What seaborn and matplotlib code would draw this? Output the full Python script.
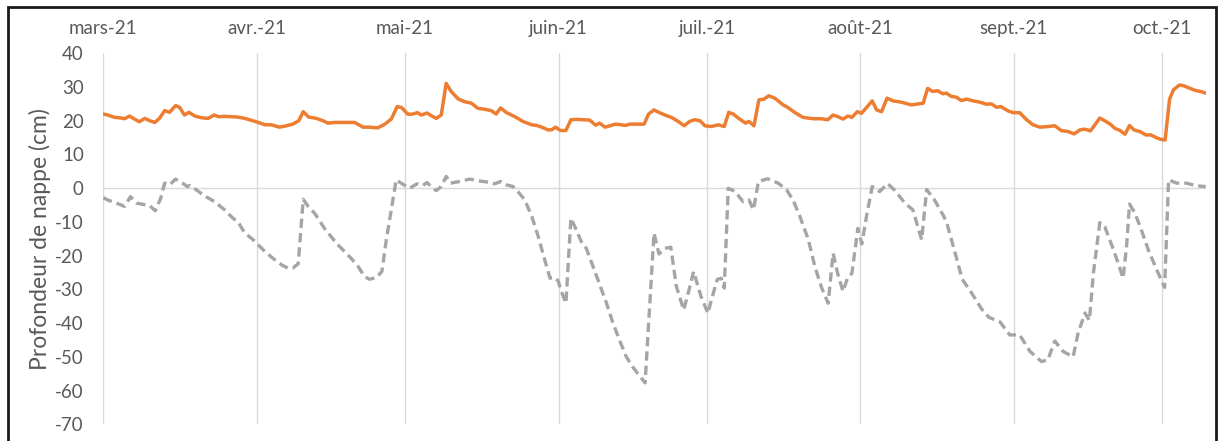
import numpy as np
import pandas as pd
import matplotlib
matplotlib.use("Agg")
import matplotlib.pyplot as plt
from matplotlib.patches import Rectangle
import seaborn as sns

# ---- data (days after 2021-03-01, depth in cm) ----
orange_days = [0, 0.9, 2.3, 3.3, 4.3, 5.3, 6.3, 7.3, 8.4, 9.4, 10.4, 11.4, 12.4, 13.4, 14.6, 15.4,
               16.4, 17.3, 18.5, 19.8, 21.2, 22.4, 23.3, 24.5, 25.9, 27.2, 28.6, 30.9, 32.7, 34.0,
               35.6, 37.0, 38.3, 39.5, 40.4, 41.5, 43.1, 44.4, 45.4, 46.8, 48.1, 49.4, 50.8, 52.5,
               53.8, 55.5, 56.9, 58.2, 59.4, 60.3, 61.5, 62.3, 63.5, 64.3, 65.4, 66.3, 67.3, 68.3,
               69.3, 70.3, 71.7, 72.9, 74.4, 75.7, 77.1, 78.4, 79.4, 80.3, 81.5, 83.2, 84.8, 86.6,
               87.6, 88.6, 89.9, 90.6, 91.4, 92.4, 93.5, 94.5, 95.6, 97.0, 98.3, 99.5, 100.3, 101.4,
               102.4, 103.5, 104.7, 105.5, 106.4, 108.0, 109.3, 110.2, 111.3, 112.1, 113.5, 114.8,
               116.2, 117.4, 118.5, 119.5, 120.6, 121.6, 122.9, 124.3, 125.5, 126.4, 127.3, 128.6,
               129.8, 130.5, 131.5, 132.5, 133.5, 134.5, 135.7, 137.4, 138.4, 139.8, 141.4, 143.5,
               145.1, 146.4, 147.5, 148.5, 149.5, 150.5, 151.3, 152.4, 153.2, 154.3, 155.4, 156.3,
               157.3, 158.4, 159.6, 161.3, 163.3, 165.7, 166.6, 167.6, 168.6, 169.7, 170.4, 171.4,
               172.4, 173.4, 174.5, 175.8, 177.2, 178.5, 179.5, 180.5, 181.4, 182.9, 183.9, 185.2,
               186.6, 187.9, 189.3, 191.0, 192.3, 193.6, 195.0, 196.2, 197.4, 198.4, 199.5, 200.4,
               201.4, 202.4, 203.5, 204.5, 205.5, 206.5, 207.4, 208.3, 209.5, 210.7, 211.7, 212.8,
               213.7, 214.6, 215.5, 216.3, 217.5, 218.3, 219.3, 220.7, 221.7, 222.8]
orange_vals = [22.0, 21.7, 21.0, 20.9, 20.6, 21.4, 20.5, 19.7, 20.7, 20.0, 19.5, 20.8, 23.0, 22.5, 24.5, 24.0,
               21.7, 22.5, 21.4, 20.9, 20.7, 21.7, 21.2, 21.3, 21.2, 21.1, 20.7, 19.7, 18.8, 18.8,
               18.1, 18.5, 19.0, 20.0, 22.7, 21.1, 20.7, 20.0, 19.3, 19.5, 19.5, 19.5, 19.5, 18.1,
               18.1, 17.9, 19.0, 20.5, 24.2, 23.9, 22.0, 21.9, 22.4, 21.7, 22.3, 21.5, 20.7, 21.7,
               31.1, 28.7, 26.5, 25.7, 25.2, 23.7, 23.4, 23.0, 22.0, 23.8, 22.4, 21.2, 19.8, 18.8,
               18.6, 18.1, 17.3, 17.3, 18.1, 17.1, 17.1, 20.3, 20.4, 20.3, 20.2, 18.7, 19.3, 18.1,
               18.5, 19.0, 18.8, 18.6, 19.0, 19.0, 19.0, 22.0, 23.2, 22.6, 21.7, 21.0,
               19.8, 18.5, 19.8, 20.3, 20.0, 18.5, 18.3, 18.8, 18.3, 22.5, 22.0, 20.5,
               19.3, 19.8, 18.5, 26.2, 26.4, 27.4, 26.7, 24.7, 23.9, 22.4, 21.0, 20.6,
               20.6, 20.3, 21.7, 21.2, 20.5, 21.4, 21.0, 22.7, 22.2, 24.0, 25.9, 23.2,
               22.7, 26.7, 25.9, 25.5, 24.7, 25.2, 29.6, 28.7, 28.9, 28.0, 28.2, 27.2,
               27.0, 26.0, 26.4, 25.9, 25.5, 24.9, 25.0, 24.0, 24.2, 22.9, 22.4, 22.4,
               20.3, 18.8, 18.1, 18.3, 18.5, 17.1, 16.8, 16.1, 17.3, 17.5, 17.0, 18.8,
               20.8, 20.0, 19.0, 17.7, 17.1, 16.0, 18.6, 17.3, 16.8, 15.8, 15.8, 15.0,
               14.5, 14.3, 26.4, 29.2, 30.6, 30.4, 29.8, 29.0, 28.7, 28.2]

grey_days = [0, 0.9, 2.3, 4.3, 5.5, 6.7, 8.4, 9.4, 10.5, 11.6, 12.4, 13.4, 14.6, 15.8, 17.0, 17.5,
             18.8, 20.5, 22.5, 24.5, 26.2, 27.2, 28.6, 30.3, 31.3, 32.7, 34.3, 36.0, 37.3, 38.3,
             39.4, 40.4, 41.4, 42.7, 44.7, 47.1, 50.1, 51.5, 52.8, 53.8, 55.2, 56.3, 57.2, 58.3,
             59.2, 60.2, 61.9, 63.4, 64.6, 65.4, 66.6, 67.3, 68.3, 69.3, 70.2, 72.0, 74.1, 75.7,
             77.8, 79.1, 80.3, 81.5, 82.8, 83.8, 85.2, 86.6, 87.9, 89.2, 90.3, 91.1, 91.9, 92.7,
             93.5, 94.5, 95.3, 96.6, 97.6, 98.6, 100.3, 101.7, 103.0, 104.4, 105.7, 107.0, 108.3,
             109.5, 111.3, 112.3, 113.5, 114.7, 115.8, 117.3, 118.3, 119.3, 120.8, 122.2, 122.9,
             124.1, 124.9, 125.5, 126.3, 127.7, 129.3, 130.5, 131.4, 132.4, 134.3, 136.4, 138.1,
             139.4, 140.8, 142.5, 143.8, 145.2, 146.5, 147.5, 148.4, 149.5, 150.4, 151.3, 152.5,
             153.3, 154.3, 155.4, 156.9, 158.5, 160.0, 162.0, 163.6, 165.4, 166.4, 168.0, 169.7,
             170.4, 171.8, 173.6, 175.5, 177.5, 179.0, 181.2, 183.2, 185.2, 187.3, 189.6, 190.9,
             192.3, 194.0, 196.0, 197.0, 198.4, 199.3, 200.1, 201.4, 202.4, 203.8, 205.1, 206.1,
             206.8, 207.4, 208.5, 209.9, 211.2, 212.9, 214.5, 215.3, 216.9, 218.9, 220.9, 222.8]
grey_vals = [-2.8, -3.5, -4.2, -5.4, -2.5, -4.4, -4.9, -5.2, -6.7, -3.0, 1.5, 1.0, 2.7, 1.7, 0.5, 0.8,
             -0.5, -2.3, -4.0, -6.4, -8.9, -9.9, -13.3, -15.3, -16.8, -18.8, -20.8, -22.7, -23.7, -23.7,
             -22.4, -3.3, -5.4, -7.4, -11.9, -16.3, -20.8, -23.2, -26.2, -27.0, -26.5, -24.7, -15.3, -5.4,
             2.5, 1.5, 0.0, 1.3, 0.8, 1.7, 0.0, -0.7, 0.5, 3.5, 1.5, 2.0, 2.7, 2.2,
             1.8, 1.3, 2.0, 1.0, 0.5, -1.0, -3.5, -8.4, -14.3, -21.2, -26.7, -26.4, -27.4, -31.1,
             -34.1, -8.9, -11.4, -15.8, -17.8, -21.7, -28.5, -34.1, -40.0, -45.3, -50.0, -53.0, -55.5,
             -57.7, -13.3, -19.5, -17.8, -17.5, -29.0, -36.1, -30.6, -24.7, -32.1, -37.1, -33.1,
             -27.0, -26.7, -29.6, 0.0, -1.0, -4.0, -3.5, -6.4, 2.0, 2.8, 1.5, -0.5,
             -3.5, -8.4, -15.3, -23.2, -29.6, -34.1, -19.3, -25.2, -30.6, -26.7, -25.2, -11.9,
             -16.5, -7.9, 0.5, -1.0, 1.4, -0.7, -4.4, -6.4, -15.3, -0.4, -3.5, -7.9,
             -9.9, -17.3, -27.0, -31.1, -35.8, -38.3, -39.6, -43.5, -43.5, -48.4, -51.4, -50.9,
             -45.3, -48.4, -50.0, -43.0, -37.0, -39.2, -25.2, -10.2, -11.4, -16.8, -22.2, -26.7,
             -17.3, -4.7, -7.4, -12.8, -18.3, -24.2, -29.4, 2.5, 1.5, 1.5, 0.7, 0.5]

month_labels = ["mars-21", "avr.-21", "mai-21", "juin-21", "juil.-21", "août-21", "sept.-21", "oct.-21"]
month_starts = ["2021-03-01", "2021-04-01", "2021-05-01", "2021-06-01",
                "2021-07-01", "2021-08-01", "2021-09-01", "2021-10-01"]
y_ticks = list(range(-70, 41, 10))

# ---- build frames ----
start = pd.Timestamp("2021-03-01")
df_o = pd.DataFrame({"date": start + pd.to_timedelta(orange_days, unit="D"), "val": orange_vals})
df_g = pd.DataFrame({"date": start + pd.to_timedelta(grey_days, unit="D"), "val": grey_vals})

sns.set_theme(style="white")
plt.rcParams["font.family"] = ["Lato", "DejaVu Sans"]

W, H = 1218, 441
fig = plt.figure(figsize=(W / 100, H / 100), dpi=100)
x0, x1 = 103.3, 1205.7
y_top, y_bot = 53.3, 424.3
ax = fig.add_axes([x0 / W, 1 - y_bot / H, (x1 - x0) / W, (y_bot - y_top) / H])

grid_c = "#d9d9d9"
sns.lineplot(data=df_o, x="date", y="val", ax=ax, color="#ED7D31", lw=2.5, sort=False,
             estimator=None, zorder=3)
sns.lineplot(data=df_g, x="date", y="val", ax=ax, color="#A5A5A5", lw=2.4, sort=False,
             estimator=None, zorder=3, dashes=False, linestyle=(0, (2.8, 1.5)))

ax.set_xlim(start, start + pd.Timedelta(days=222.8))
ax.set_ylim(-70, 40)
ax.set_yticks(y_ticks)
ax.set_yticklabels([str(v) for v in y_ticks])
ticks = pd.to_datetime(month_starts)
ax.set_xticks(ticks)
ax.set_xticklabels(month_labels)
ax.xaxis.tick_top()
ax.tick_params(axis="x", length=0, pad=12, labelsize=13.5, labelcolor="#595959")
ax.tick_params(axis="y", length=0, pad=14, labelsize=13.5, labelcolor="#595959")
for t in ticks:
    ax.axvline(t, color=grid_c, lw=1.0, zorder=1)
ax.axhline(0, color=grid_c, lw=1.0, zorder=1)
for s in ax.spines.values():
    s.set_visible(False)
ax.set_xlabel("")
ax.set_ylabel("Profondeur de nappe (cm)", fontsize=16.5, color="#595959")
ax.yaxis.set_label_coords((51 - x0) / (x1 - x0), 0.5)

# outer border
fig.patches.append(Rectangle((8 / W, -0.05), (1216 - 8) / W, 1.05 - 7 / H,
                             transform=fig.transFigure, fill=False, edgecolor="#1a1a1a",
                             lw=2.0, clip_on=False))

fig.savefig("out.png", dpi=100)
